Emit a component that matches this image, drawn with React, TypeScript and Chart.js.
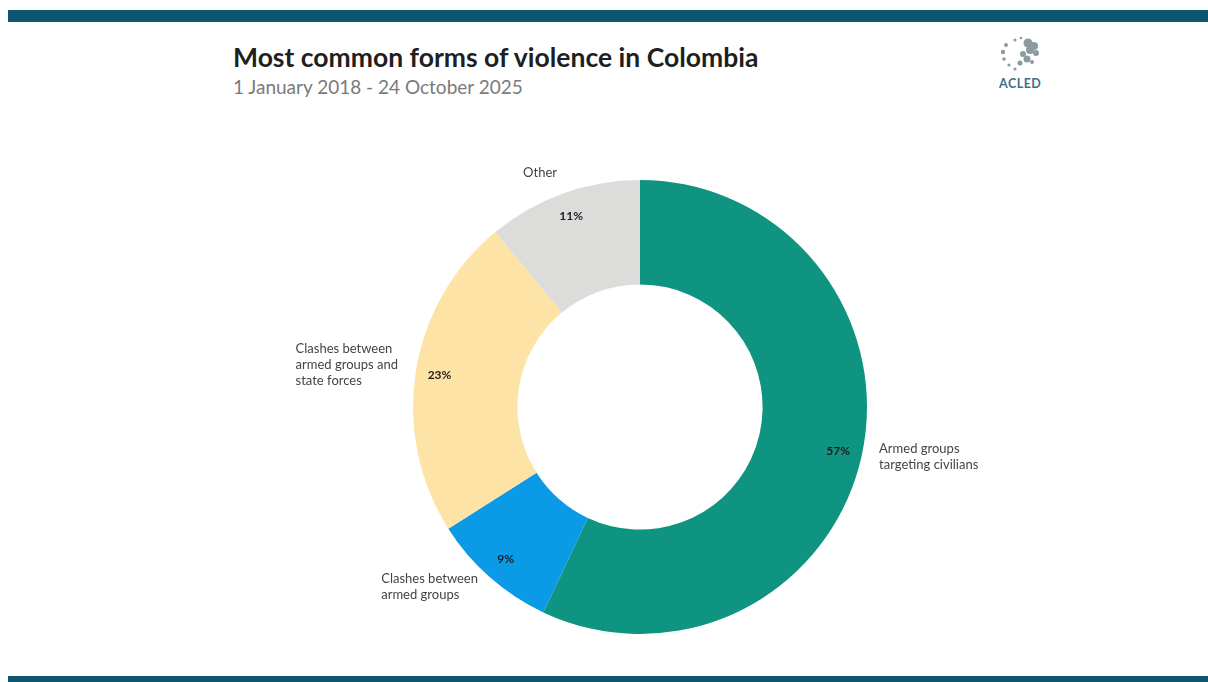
import React, { useEffect, useRef } from "react";
import { Chart, registerables } from "chart.js";

Chart.register(...registerables);

const categories = [
  "Armed groups targeting civilians",
  "Clashes between armed groups",
  "Clashes between armed groups and state forces",
  "Other",
];
const labelLines = [
  ["Armed groups", "targeting civilians"],
  ["Clashes between", "armed groups"],
  ["Clashes between", "armed groups and", "state forces"],
  ["Other"],
];
const shares = [57, 9, 23, 11];
const colors = ["#0f9482", "#0a9ae6", "#fde3a6", "#dcdcdb"];

const TITLE = "Most common forms of violence in Colombia";
const SUBTITLE = "1 January 2018 - 24 October 2025";

const labelPlugin = {
  id: "sliceLabels",
  afterDatasetsDraw(chart: any) {
    const ctx = chart.ctx;
    const meta = chart.getDatasetMeta(0);
    meta.data.forEach((arc: any, i: number) => {
      const p = arc.getProps(["x", "y", "startAngle", "endAngle", "innerRadius", "outerRadius"], true);
      const mid = (p.startAngle + p.endAngle) / 2;
      const rIn = p.innerRadius + 0.77 * (p.outerRadius - p.innerRadius);
      ctx.save();
      ctx.font = "bold 12px Lato";
      ctx.fillStyle = "#1e1e1e";
      ctx.textAlign = "center";
      ctx.textBaseline = "middle";
      ctx.fillText(shares[i] + "%", p.x + Math.cos(mid) * rIn, p.y + Math.sin(mid) * rIn);

      const rOut = p.outerRadius + 18;
      const ax = p.x + Math.cos(mid) * rOut;
      const ay = p.y + Math.sin(mid) * rOut - 4;
      ctx.font = "13px Lato";
      ctx.fillStyle = "#444";
      const lines = labelLines[i];
      const lh = 16;
      const w = Math.max(...lines.map((l) => ctx.measureText(l).width));
      const left = Math.cos(mid) >= 0 ? ax : ax - w;
      ctx.textAlign = "left";
      lines.forEach((l, k) => ctx.fillText(l, left, ay + (k - (lines.length - 1) / 2) * lh));
      ctx.restore();
    });
  },
};

function DonutChart() {
  const ref = useRef<HTMLCanvasElement | null>(null);
  useEffect(() => {
    if (!ref.current) return;
    const chart = new Chart(ref.current, {
      type: "doughnut",
      data: {
        labels: categories,
        datasets: [
          {
            data: shares,
            backgroundColor: colors,
            borderWidth: 0,
          },
        ],
      },
      options: {
        animation: false,
        responsive: true,
        maintainAspectRatio: false,
        cutout: "54%",
        layout: { padding: 33 },
        plugins: {
          legend: { display: false },
          tooltip: { enabled: false },
        },
      },
      plugins: [labelPlugin],
    });
    return () => chart.destroy();
  }, []);
  return <canvas ref={ref} />;
}

function Logo() {
  return (
    <div style={{ position: "absolute", left: 990, top: 34, width: 60, height: 62 }}>
      <svg width="60" height="42" viewBox="0 0 60 42">
        <g fill="#8c9ba1">
          <circle cx="38" cy="9" r="4.5" />
          <circle cx="44" cy="12" r="4" />
          <circle cx="40" cy="16" r="4" />
          <circle cx="46" cy="19" r="3" />
          <circle cx="33" cy="20" r="3" />
          <circle cx="37" cy="25" r="3.5" />
          <circle cx="30" cy="29" r="2.5" />
          <circle cx="42" cy="28" r="2" />
          <circle cx="16" cy="11" r="2" />
          <circle cx="13" cy="18" r="2.2" />
          <circle cx="14" cy="25" r="1.8" />
          <circle cx="19" cy="31" r="1.6" />
          <circle cx="25" cy="6" r="1.5" />
          <circle cx="25" cy="35" r="1.6" />
          <circle cx="31" cy="4" r="1.3" />
        </g>
      </svg>
      <div
        style={{
          position: "absolute",
          left: 9,
          top: 42,
          font: "bold 12.5px Lato",
          color: "#3d6f85",
          letterSpacing: "0.5px",
        }}
      >
        ACLED
      </div>
    </div>
  );
}

export default function App() {
  return (
    <div
      style={{
        position: "fixed",
        left: 0,
        top: 0,
        width: 1208,
        height: 682,
        background: "#ffffff",
        overflow: "hidden",
        fontFamily: "Lato, sans-serif",
      }}
    >
      <div style={{ position: "absolute", left: 8, top: 10, width: 1200, height: 12, background: "#0d5470" }} />
      <div style={{ position: "absolute", left: 8, top: 676, width: 1200, height: 6, background: "#0d5470" }} />
      <div
        style={{
          position: "absolute",
          left: 233,
          top: 41,
          font: "bold 26.5px Lato",
          color: "#1f1f1f",
          whiteSpace: "nowrap",
        }}
      >
        {TITLE}
      </div>
      <div
        style={{
          position: "absolute",
          left: 233,
          top: 75,
          font: "19px Lato",
          color: "#7a7a7a",
          whiteSpace: "nowrap",
        }}
      >
        {SUBTITLE}
      </div>
      <Logo />
      <div style={{ position: "absolute", left: 140, top: 147, width: 1000, height: 520 }}>
        <DonutChart />
      </div>
    </div>
  );
}
